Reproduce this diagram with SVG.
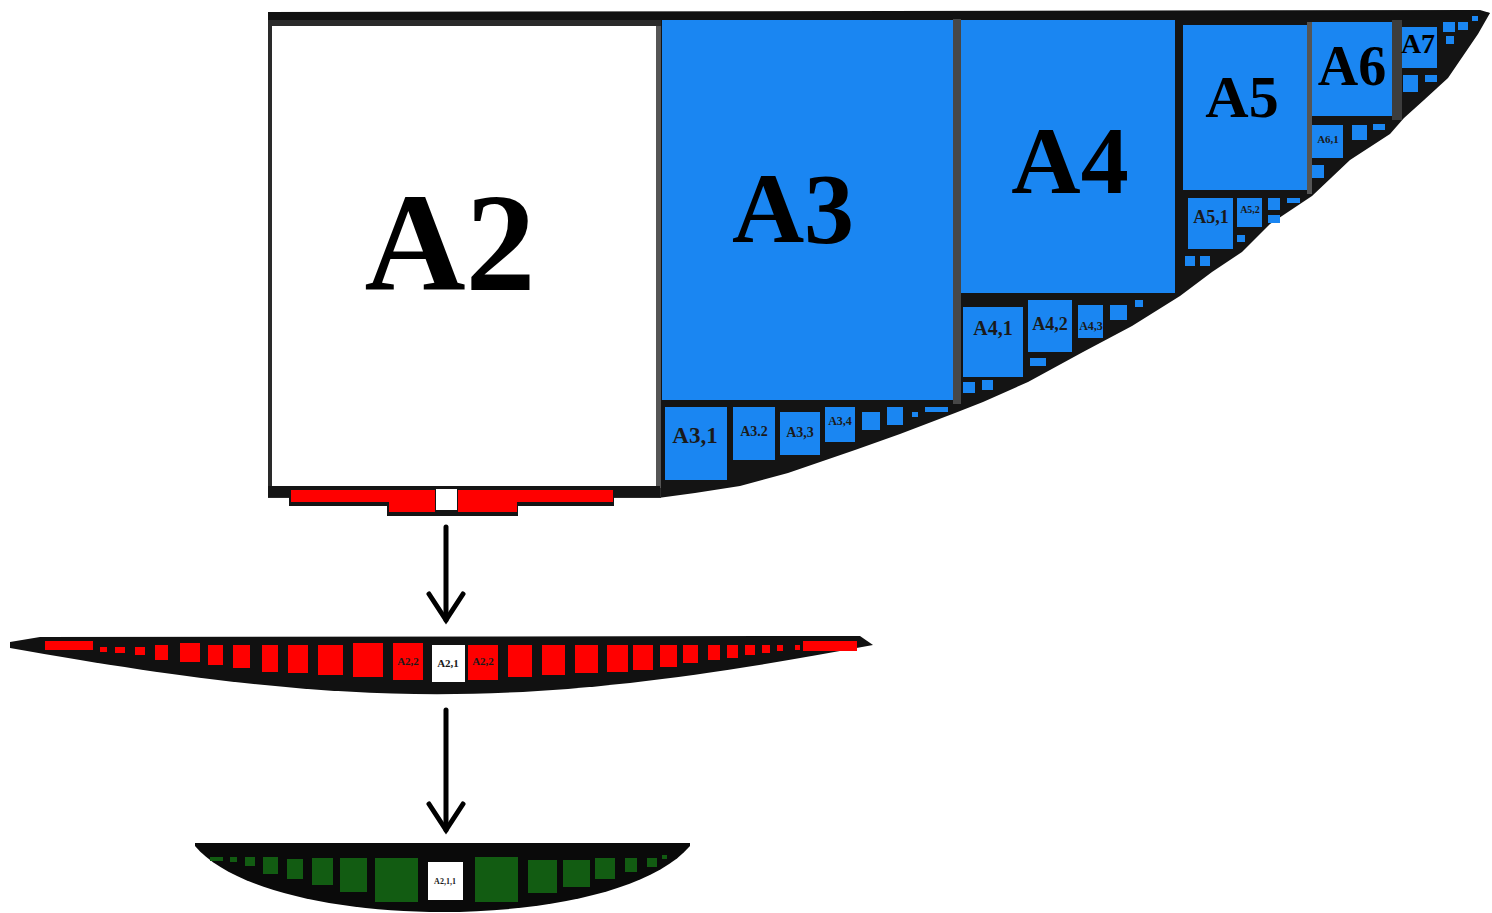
<svg xmlns="http://www.w3.org/2000/svg" width="1492" height="913" viewBox="0 0 1492 913">
<defs>
<style>
.blue{fill:#1a86f2}
.red{fill:#ff0000}
.grn{fill:#125c12}
.wht{fill:#ffffff}
.div{fill:#474747}
.lbl{font-family:"Liberation Serif","Times New Roman",serif;font-weight:bold;fill:#000;text-anchor:middle}
.sm{font-family:"Liberation Serif","Times New Roman",serif;font-weight:bold;fill:#1a1a1a;text-anchor:middle}
.conn{stroke:#000;stroke-width:5;fill:none;stroke-linecap:round}
</style>
<marker id="chev" markerUnits="userSpaceOnUse" markerWidth="36" markerHeight="42" viewBox="-31 -21 36 42" refX="0" refY="0" orient="auto">
<path d="M-26,-17 L0,0 L-26,17" fill="none" stroke="#000" stroke-width="5" stroke-linecap="round" stroke-linejoin="miter"/>
</marker>
</defs>
<rect width="1492" height="913" fill="#ffffff"/>

<g id="fan-base">
<path d="M658,17 L1478,11 L1490,13 L1478,34 L1448,78 L1424,100 L1404,118 L1390,134 L1350,160 L1312,196 L1270,224 L1242,252 L1212,272 L1180,296 L1132,326 L1083,352 L1028,382 L983,402 L955,413 L900,434 L855,450 L788,473 L740,486 L695,493 L658,498 Z" fill="#141414"/>
<path d="M268,12 L1480,10 L1490,13 L1478,20 L661,20 L661,26 L268,26 Z" fill="#111"/>
</g>

<g id="node-A2">
<rect x="268" y="20" width="393" height="478" fill="#2a2a2a"/>
<rect x="272" y="26" width="384" height="460" class="wht"/>
<rect x="656" y="26" width="5" height="462" fill="#555"/>
<text class="lbl" x="450" y="290" font-size="140">A2</text>
</g>

<g id="node-A2-bar">
<path d="M268,486 L660,486 L660,497 L614,497 L614,506 L518,506 L518,516 L387,516 L387,506 L289,506 L289,497 L268,497 Z" fill="#151515"/>
<rect x="291" y="490" width="144" height="12" class="red"/>
<rect x="389" y="501" width="46" height="11" class="red"/>
<rect x="458" y="490" width="155" height="12" class="red"/>
<rect x="458" y="501" width="59" height="11" class="red"/>
<rect x="436" y="489" width="21" height="21" class="wht"/>
</g>

<g id="node-A3">
<rect x="662" y="20" width="291" height="380" class="blue"/>
<rect x="953" y="19" width="8" height="385" class="div"/>
<text class="lbl" x="793" y="242" font-size="100">A3</text>
<rect x="665" y="407" width="62" height="73" class="blue"/>
<rect x="733" y="407" width="42" height="53" class="blue"/>
<rect x="780" y="412" width="40" height="43" class="blue"/>
<rect x="825" y="407" width="30" height="35" class="blue"/>
<rect x="862" y="412" width="18" height="18" class="blue"/>
<rect x="887" y="407" width="16" height="18" class="blue"/>
<rect x="912" y="412" width="6" height="5" class="blue"/>
<rect x="925" y="407" width="23" height="5" class="blue"/>
<text class="sm" x="695" y="443" font-size="23">A3,1</text>
<text class="sm" x="754" y="436" font-size="14">A3.2</text>
<text class="sm" x="800" y="437" font-size="14">A3,3</text>
<text class="sm" x="840" y="425" font-size="12">A3,4</text>
</g>

<g id="node-A4">
<rect x="961" y="20" width="214" height="273" class="blue"/>
<text class="lbl" x="1070" y="193" font-size="96">A4</text>
<rect x="963" y="307" width="60" height="70" class="blue"/>
<rect x="1028" y="300" width="44" height="52" class="blue"/>
<rect x="1078" y="305" width="25" height="33" class="blue"/>
<rect x="1110" y="305" width="17" height="15" class="blue"/>
<rect x="1135" y="300" width="8" height="7" class="blue"/>
<rect x="963" y="382" width="12" height="11" class="blue"/>
<rect x="982" y="380" width="11" height="10" class="blue"/>
<rect x="1030" y="358" width="16" height="8" class="blue"/>
<text class="sm" x="993" y="335" font-size="20">A4,1</text>
<text class="sm" x="1050" y="330" font-size="18">A4,2</text>
<text class="sm" x="1091" y="330" font-size="12">A4,3</text>
</g>

<g id="node-A5">
<rect x="1183" y="25" width="124" height="165" class="blue"/>
<rect x="1307" y="22" width="5" height="172" fill="#555"/>
<text class="lbl" x="1242" y="117" font-size="60">A5</text>
<rect x="1188" y="198" width="45" height="51" class="blue"/>
<rect x="1237" y="198" width="25" height="29" class="blue"/>
<rect x="1268" y="198" width="12" height="12" class="blue"/>
<rect x="1268" y="215" width="12" height="8" class="blue"/>
<rect x="1287" y="198" width="13" height="5" class="blue"/>
<rect x="1237" y="235" width="8" height="7" class="blue"/>
<rect x="1185" y="256" width="10" height="10" class="blue"/>
<rect x="1200" y="256" width="10" height="10" class="blue"/>
<text class="sm" x="1211" y="223" font-size="18">A5,1</text>
<text class="sm" x="1250" y="213" font-size="10">A5,2</text>
</g>

<g id="node-A6">
<rect x="1312" y="22" width="80" height="94" class="blue"/>
<rect x="1392" y="20" width="10" height="100" fill="#3d3d3d"/>
<text class="lbl" x="1352" y="85" font-size="56">A6</text>
<rect x="1312" y="125" width="31" height="33" class="blue"/>
<rect x="1352" y="125" width="15" height="15" class="blue"/>
<rect x="1373" y="124" width="12" height="6" class="blue"/>
<rect x="1312" y="165" width="12" height="13" class="blue"/>
<text class="sm" x="1328" y="143" font-size="11">A6,1</text>
</g>

<g id="node-A7">
<rect x="1402" y="27" width="35" height="41" class="blue"/>
<text class="lbl" x="1418" y="53" font-size="28">A7</text>
<rect x="1403" y="75" width="15" height="17" class="blue"/>
<rect x="1425" y="75" width="12" height="7" class="blue"/>
<rect x="1443" y="22" width="12" height="10" class="blue"/>
<rect x="1458" y="22" width="10" height="8" class="blue"/>
<rect x="1446" y="36" width="8" height="8" class="blue"/>
<rect x="1472" y="16" width="6" height="5" class="blue"/>
</g>

<g id="node-A2-strip">
<path d="M10,642 L40,637 L860,636 L873,645 C525,710 358,710 10,648 Z" fill="#111"/>
<rect x="45" y="641" width="48" height="9" class="red"/>
<rect x="100" y="647" width="7" height="5" class="red"/>
<rect x="115" y="647" width="10" height="6" class="red"/>
<rect x="135" y="647" width="10" height="8" class="red"/>
<rect x="155" y="645" width="13" height="15" class="red"/>
<rect x="180" y="643" width="20" height="19" class="red"/>
<rect x="208" y="645" width="15" height="20" class="red"/>
<rect x="233" y="645" width="17" height="23" class="red"/>
<rect x="262" y="645" width="16" height="27" class="red"/>
<rect x="288" y="645" width="20" height="28" class="red"/>
<rect x="318" y="645" width="25" height="30" class="red"/>
<rect x="353" y="643" width="30" height="34" class="red"/>
<rect x="393" y="643" width="30" height="37" class="red"/>
<rect x="432" y="645" width="33" height="37" class="wht"/>
<rect x="468" y="645" width="30" height="35" class="red"/>
<rect x="508" y="645" width="24" height="32" class="red"/>
<rect x="542" y="645" width="23" height="30" class="red"/>
<rect x="575" y="645" width="23" height="28" class="red"/>
<rect x="607" y="645" width="21" height="27" class="red"/>
<rect x="633" y="645" width="20" height="25" class="red"/>
<rect x="660" y="645" width="17" height="22" class="red"/>
<rect x="683" y="645" width="15" height="18" class="red"/>
<rect x="708" y="645" width="12" height="15" class="red"/>
<rect x="727" y="645" width="11" height="13" class="red"/>
<rect x="745" y="645" width="10" height="10" class="red"/>
<rect x="762" y="645" width="8" height="8" class="red"/>
<rect x="777" y="645" width="6" height="6" class="red"/>
<rect x="795" y="645" width="5" height="5" class="red"/>
<rect x="803" y="641" width="54" height="10" class="red"/>
<text class="sm" x="408" y="665" font-size="11">A2,2</text>
<text class="sm" x="448" y="667" font-size="11">A2,1</text>
<text class="sm" x="483" y="665" font-size="11">A2,2</text>
</g>

<g id="node-A2-1-strip">
<path d="M195,843 L690,843 L690,846 C615,934 270,934 195,846 Z" fill="#0a0a0a"/>
<rect x="210" y="857" width="13" height="4" class="grn"/>
<rect x="230" y="857" width="7" height="5" class="grn"/>
<rect x="245" y="857" width="10" height="9" class="grn"/>
<rect x="263" y="857" width="15" height="17" class="grn"/>
<rect x="287" y="859" width="16" height="20" class="grn"/>
<rect x="312" y="858" width="21" height="27" class="grn"/>
<rect x="340" y="858" width="27" height="34" class="grn"/>
<rect x="375" y="858" width="43" height="44" class="grn"/>
<rect x="428" y="862" width="35" height="38" class="wht"/>
<rect x="475" y="857" width="43" height="45" class="grn"/>
<rect x="528" y="860" width="29" height="33" class="grn"/>
<rect x="563" y="860" width="27" height="27" class="grn"/>
<rect x="595" y="858" width="20" height="21" class="grn"/>
<rect x="625" y="858" width="12" height="14" class="grn"/>
<rect x="647" y="858" width="10" height="9" class="grn"/>
<rect x="662" y="855" width="5" height="4" class="grn"/>
<text class="sm" x="445" y="884" font-size="8">A2,1,1</text>
</g>

<g id="connectors">
<line class="conn" x1="446" y1="527" x2="446" y2="620" marker-end="url(#chev)"/>
<line class="conn" x1="446" y1="710" x2="446" y2="830" marker-end="url(#chev)"/>
</g>
</svg>
